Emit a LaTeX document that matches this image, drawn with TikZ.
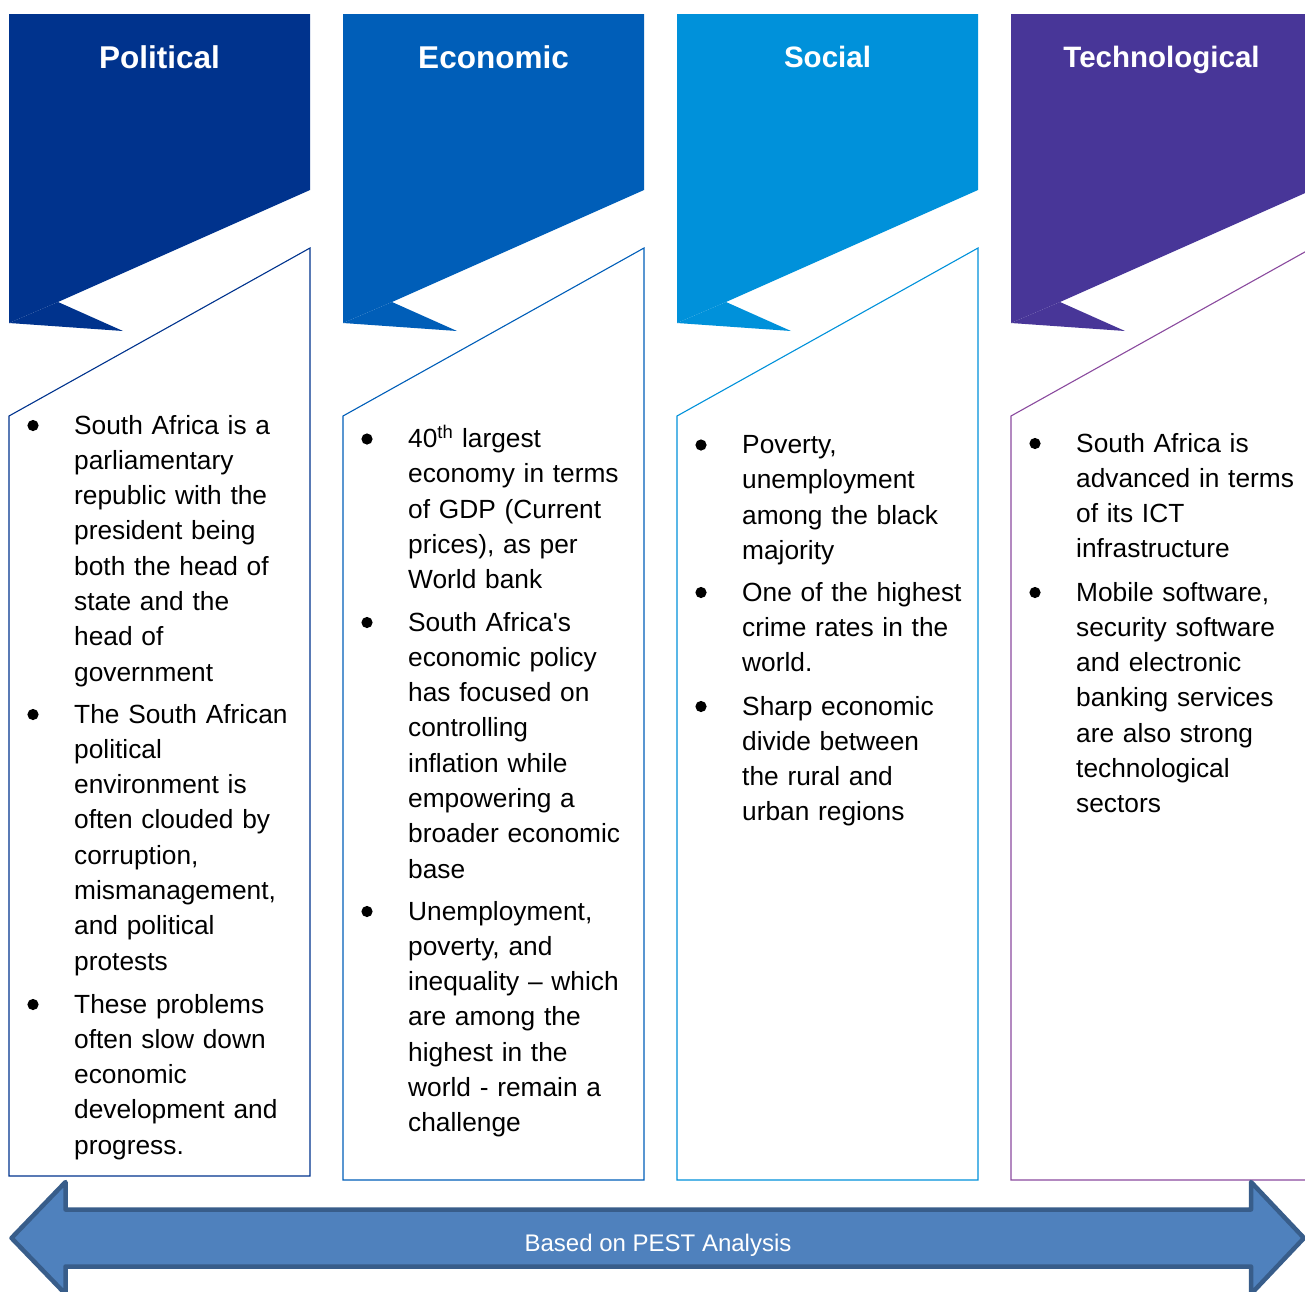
\documentclass[tikz,border=0pt]{standalone}
\usepackage{fontspec}
\setmainfont{Liberation Sans}
\definecolor{cP}{HTML}{00338D}
\definecolor{cE}{HTML}{005EB8}
\definecolor{cS}{HTML}{0091DA}
\definecolor{cT}{HTML}{483698}
\definecolor{oT}{HTML}{8A4A9E}
\definecolor{aFill}{HTML}{4F81BD}
\definecolor{aLine}{HTML}{385D8A}
\begin{document}
\begin{tikzpicture}[x=1pt,y=-1pt,
  hdr/.style={text=white, anchor=base, inner sep=0, font=\bfseries\fontsize{#1}{36}\selectfont},
  body/.style={anchor=base west, inner sep=0, text width=260, align=left,
               font=\fontsize{26.3}{35.3}\selectfont},
  lbl/.style={text=white, anchor=base, inner sep=0, font=\fontsize{24}{28}\selectfont},
  pestarrow/.style={fill=aFill, draw=aLine, line width=4.5, line join=round}]
\useasboundingbox (0,0) rectangle (1305,1291);
\clip (0,0) rectangle (1305,1291);

% columns: banner, fold, text box
\foreach \xl/\cc/\oc/\yb in {9/cP/cP/1176, 343/cE/cE/1180, 677/cS/cS/1180, 1011/cT/oT/1180}{
  \fill[\cc] (\xl,14) -- (\xl+301,14) -- (\xl+301,190) -- (\xl+49,302) -- (\xl,323) -- cycle;
  \fill[\cc] (\xl,323) -- (\xl+49,302) -- (\xl+114,331) -- cycle;
  \draw[\oc, line width=1.1] (\xl,416) -- (\xl+301,248) -- (\xl+301,\yb) -- (\xl,\yb) -- cycle;
}

% headers
\node[hdr=31.5] (hP) at (159.5,68) {Political};
\node[hdr=31.5] (hE) at (493.5,68) {Economic};
\node[hdr=29.5] (hS) at (827.5,67) {Social};
\node[hdr=29.5] (hT) at (1161.5,67) {Technological};

% bullets
\foreach \bx/\by in {33/434, 33/723, 33/1013,
                     367/447.5, 367/631, 367/920,
                     701/453.5, 701/601, 701/715,
                     1035/452, 1035/601}{
  \fill (\bx,\by-8.5) circle (5.6);
}

% Political
\node[body] (p1) at (74,434) {South Africa is a\\parliamentary\\republic with the\\president being\\both the head of\\state and the\\head of\\government};
\node[body] (p2) at (74,723) {The South African\\political\\environment is\\often clouded by\\corruption,\\mismanagement,\\and political\\protests};
\node[body] (p3) at (74,1013) {These problems\\often slow down\\economic\\development and\\progress.};

% Economic
\node[body] (e1) at (408,447.5) {40\textsuperscript{th} largest\\economy in terms\\of GDP (Current\\prices), as per\\World bank};
\node[body] (e2) at (408,631) {South Africa\textquotesingle s\\economic policy\\has focused on\\controlling\\inflation while\\empowering a\\broader economic\\base};
\node[body] (e3) at (408,920) {Unemployment,\\poverty, and\\inequality -- which\\are among the\\highest in the\\world - remain a\\challenge};

% Social
\node[body] (s1) at (742,453.5) {Poverty,\\unemployment\\among the black\\majority};
\node[body] (s2) at (742,601) {One of the highest\\crime rates in the\\world.};
\node[body] (s3) at (742,715) {Sharp economic\\divide between\\the rural and\\urban regions};

% Technological
\node[body] (t1) at (1076,452) {South Africa is\\advanced in terms\\of its ICT\\infrastructure};
\node[body] (t2) at (1076,601) {Mobile software,\\security software\\and electronic\\banking services\\are also strong\\technological\\sectors};

% bottom double arrow
\draw[pestarrow] (11.5,1238) -- (65.5,1182) -- (65.5,1209.5) -- (1251,1209.5) -- (1251,1182)
  -- (1304,1238) -- (1251,1294) -- (1251,1266.5) -- (65.5,1266.5) -- (65.5,1294) -- cycle;
\node[lbl] (pest) at (658,1251.5) {Based on PEST Analysis};
\end{tikzpicture}
\end{document}
